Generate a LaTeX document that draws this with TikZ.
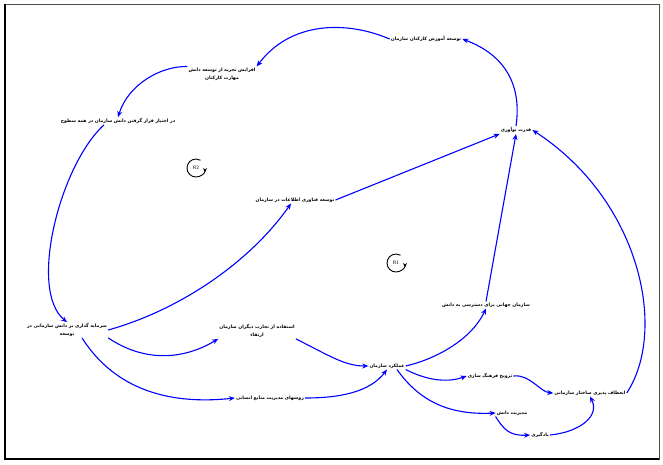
\documentclass[tikz,border=0pt]{standalone}
\usepackage{fontspec}
\newfontfamily\farsi[Script=Arabic]{DejaVu Sans}
\TeXXeTstate=1
\usetikzlibrary{arrows.meta}
\tikzset{
  lbl/.style={font=\farsi\bfseries\fontsize{4.6}{8}\selectfont, inner sep=1pt, align=center, text=black},
  link/.style={draw=blue, line width=1.1pt, -{Stealth[length=6pt,width=5pt]}},
  loopsym/.style={draw=black, line width=0.9pt},
  looplbl/.style={font=\sffamily\bfseries\fontsize{5}{6}\selectfont, inner sep=0pt, text=black!70}
}
\begin{document}
\begin{tikzpicture}[x=1pt,y=-1pt]
\useasboundingbox (0,0) rectangle (663,464);
\fill[white] (0,0) rectangle (663,464);
\draw[line width=0.6pt, black!70] (4,4) rectangle (659,459);
\draw[line width=2pt] (5,4) -- (5,459) -- (659,459);

\node[lbl] (A) at (426,39) {\beginR توسعه آموزش کارکنان سازمان\endR};
\node[lbl] (B) at (222,74) {\beginR افزایش تجربه از توسعه دانش\endR\\ \beginR مهارت کارکنان\endR};
\node[lbl] (C) at (118,121) {\beginR در اختیار قرار گرفتن دانش سازمان در همه سطوح\endR};
\node[lbl] (D) at (516,130) {\beginR قدرت نوآوری\endR};
\node[lbl] (E) at (295,200) {\beginR توسعه فناوری اطلاعات در سازمان\endR};
\node[lbl] (F) at (67,330) {\beginR سرمایه گذاری بر دانش سازمانی در\endR\\ \beginR توسعه\endR};
\node[lbl] (G) at (257,331) {\beginR استفاده از تجارب دیگران سازمان\endR\\ \beginR ارتقاء\endR};
\node[lbl] (H) at (486,305) {\beginR سازمان جهانی برای دسترسی به دانش\endR};
\node[lbl] (I) at (387,366) {\beginR عملکرد سازمان\endR};
\node[lbl] (J) at (490,376) {\beginR ترویج فرهنگ سازی\endR};
\node[lbl] (K) at (590,393) {\beginR انعطاف پذیری ساختار سازمانی\endR};
\node[lbl] (L) at (512,413) {\beginR مدیریت دانش\endR};
\node[lbl] (M) at (540,435) {\beginR یادگیری\endR};
\node[lbl] (N) at (270,398) {\beginR روشهای مدیریت منابع انسانی\endR};

\node[looplbl] (R2) at (196,168) {R2};
\node[looplbl] (R1) at (396,263) {R1};
\draw[loopsym, {Stealth[reversed,length=4.5pt,width=4pt]}-] ([shift={(0:9)}]R2.center) arc[start angle=0, end angle=300, radius=9];
\draw[loopsym, {Stealth[reversed,length=4.5pt,width=4pt]}-] ([shift={(0:9)}]R1.center) arc[start angle=0, end angle=300, radius=9];

\draw[link] (D.north) .. controls (522,85) and (505,55) .. (A.east);
\draw[link] (A.west) .. controls (345,20) and (290,22) .. (B.north east);
\draw[link] (B.north west) .. controls (160,66) and (128,85) .. (C.north);
\draw[link] ([xshift=-14pt]C.south) .. controls (60,165) and (28,290) .. (F.north);
\draw[link] (F.east) .. controls (180,310) and (250,262) .. ([xshift=-4pt]E.south);
\draw[link] (E.east) -- (D.south west);
\draw[link] (H.north) -- (D.south);
\draw[link] (K.east) .. controls (668,330) and (640,200) .. (D.east);
\draw[link] (F.south east) .. controls (150,366) and (190,356) .. (G.south west);
\draw[link] ([xshift=15pt]F.south) .. controls (115,390) and (170,405) .. (N.west);
\draw[link] (G.south east) .. controls (330,356) and (345,366) .. (I.west);
\draw[link] (N.east) .. controls (340,398) and (370,392) .. (I.south);
\draw[link] (I.east) .. controls (432,360) and (470,342) .. (H.south);
\draw[link] (I.south east) .. controls (430,382) and (450,382) .. (J.west);
\draw[link] (J.east) .. controls (530,374) and (540,392) .. (K.west);
\draw[link] ([xshift=10pt]I.south) .. controls (420,402) and (450,415) .. (L.west);
\draw[link] (L.south west) .. controls (504,430) and (510,436) .. (M.west);
\draw[link] (M.east) .. controls (580,432) and (600,416) .. (K.south);
\end{tikzpicture}
\end{document}
